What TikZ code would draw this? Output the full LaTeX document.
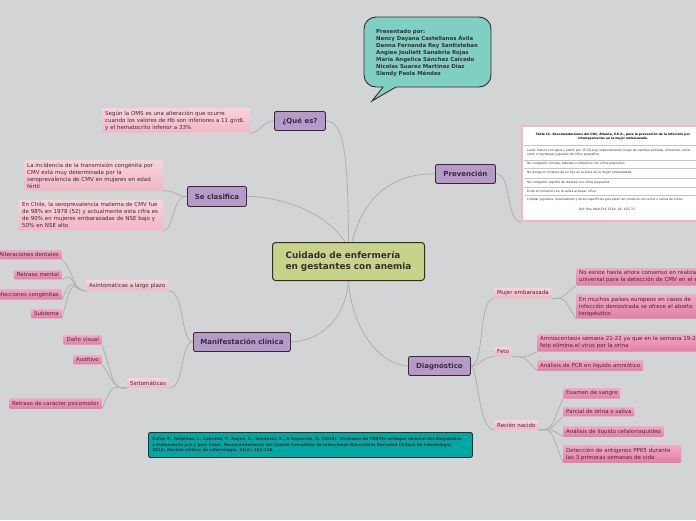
\documentclass[tikz,border=0pt]{standalone}
\usepackage{fontspec}
\setmainfont{DejaVu Sans}
\usepackage{xcolor}
\usepackage{tikz}
\usetikzlibrary{backgrounds}

\definecolor{bg}{HTML}{D3D4D5}
\definecolor{hubfill}{HTML}{C6D38A}
\definecolor{edge}{HTML}{3A2A26}
\definecolor{topicfill}{HTML}{B59BCB}
\definecolor{pinklite}{HTML}{F9D3DB}
\definecolor{pinkmid}{HTML}{F2B6C5}
\definecolor{pinktop}{HTML}{F2A9C4}
\definecolor{pinkdeep}{HTML}{E27EA6}
\definecolor{linkgray}{HTML}{B0B0B0}
\definecolor{bubble}{HTML}{7FCFC2}
\definecolor{citefill}{HTML}{00A8A3}
\definecolor{ink}{HTML}{3D2B33}
\definecolor{rule}{HTML}{C4C4C4}

\begin{document}
\begin{tikzpicture}[x=1pt, y=-1pt,
  link/.style={draw=linkgray, line width=0.8pt},
  hub/.style={draw=edge, line width=1pt, fill=hubfill, rounded corners=3pt, text=ink,
    font=\fontsize{8.9}{11.7}\selectfont\bfseries, align=left, inner sep=0pt},
  topic/.style={draw=edge, line width=0.9pt, fill=topicfill, rounded corners=2pt, text=ink,
    font=\fontsize{7}{8}\selectfont\bfseries, inner sep=0pt},
  lite/.style={top color=pinklite, bottom color=pinkmid, rounded corners=1pt, text=ink,
    font=\fontsize{5.5}{7}\selectfont, align=left, inner xsep=3pt, inner ysep=2.5pt},
  deep/.style={top color=pinktop, bottom color=pinkdeep, rounded corners=1pt, text=ink,
    font=\fontsize{5.5}{7}\selectfont, align=left, inner xsep=3pt, inner ysep=2.5pt},
  tabtext/.style={font=\fontsize{3.1}{3.8}\selectfont, text=black!80, anchor=west, inner sep=0pt, align=left},
]
  \begin{scope}[on background layer]
    \path[use as bounding box, fill=bg] (0,0) rectangle (696,520);
  \end{scope}
  \clip (0,0) rectangle (696,520);

  % speech bubble
  \filldraw[draw=edge, line width=0.9pt, fill=bubble] (372,101) -- (383,87)
    [rounded corners=12pt] -- (364,87) -- (364,17) -- (491,17) -- (491,87) [sharp corners] -- (396,87) -- cycle;
  \node[anchor=north west, align=left, text=ink, inner sep=0pt,
    font=\fontsize{5.4}{7.1}\selectfont\bfseries] (autores) at (376,29)
    {Presentado por:\\Nancy Dayana Castellanos Ávila\\Danna Fernanda Rey Santisteban\\Angiee Jouliett Sanabria Rojas\\María Angelica Sánchez Caicedo\\Nicolas Suarez Martinez Diaz\\Slendy Paola Méndez};

  % nodes
  \node[hub, anchor=north west, minimum width=152pt, minimum height=38pt] (cen) at (272,242)
    {Cuidado de enfermería\\en gestantes con anemia};
  \node[topic, anchor=north west, minimum width=51pt, minimum height=19pt] (que) at (274,111) {¿Qué es?};
  \node[topic, anchor=north west, minimum width=59pt, minimum height=20pt] (clas) at (187,186) {Se clasifica};
  \node[topic, anchor=north west, minimum width=97pt, minimum height=19pt] (mani) at (193,332) {Manifestación clínica};
  \node[topic, anchor=north west, minimum width=60pt, minimum height=19pt] (prev) at (435,164) {Prevención};
  \node[topic, anchor=north west, minimum width=62pt, minimum height=19pt] (diag) at (408,356) {Diagnóstico};

  \node[lite, anchor=north west, text width=142pt] (oms) at (102,108)
    {Según la OMS es una alteración que ocurre\\cuando los valores de Hb son inferiores a 11 gr/dL\\y el hematocrito inferior a 33\%};
  \node[lite, anchor=north west, text width=133pt] (inc) at (24,160)
    {La incidencia de la transmisión congénita por\\CMV está muy determinada por la\\seroprevalencia de CMV en mujeres en edad\\fértil};
  \node[lite, anchor=north west, text width=138pt] (chile) at (19,200)
    {En Chile, la seroprevalencia materna de CMV fue\\de 98\% en 1978 (52) y actualmente esta cifra es\\de 90\% en mujeres embarazadas de NSE bajo y\\50\% en NSE alto};
  \node[lite, anchor=north west] (asin) at (86,280) {Asintomáticas a largo plazo};
  \node[lite, anchor=north west] (sint) at (127,378) {Sintomáticas};
  \node[deep, anchor=north east] (alt) at (62,250) {Alteraciones dentales};
  \node[deep, anchor=north east] (ret) at (62,270) {Retraso mental};
  \node[deep, anchor=north east] (infc) at (62,289) {Infecciones congénitas};
  \node[deep, anchor=north east] (subt) at (62,309) {Subtema};
  \node[deep, anchor=north east] (dano) at (102,335) {Daño visual};
  \node[deep, anchor=north east] (aud) at (102,355) {Auditivo};
  \node[deep, anchor=north east] (psic) at (102,398) {Retraso de carácter psicomotor};

  \node[lite, anchor=north west] (muj) at (494,288) {Mujer embarazada};
  \node[lite, anchor=north west] (feto) at (494,347) {Feto};
  \node[lite, anchor=north west] (rn) at (494,420) {Recién nacido};
  \node[deep, anchor=north west, text width=160pt] (noex) at (576,268)
    {No existe hasta ahora consenso en realizar tamizaje\\universal para la detección de CMV en el embarazo};
  \node[deep, anchor=north west, text width=116pt] (euro) at (576,294)
    {En muchos países europeos en casos de\\infección demostrada se ofrece el aborto\\terapéutico};
  \node[deep, anchor=north west, text width=185pt] (amni) at (537,334)
    {Amniocentesis semana 21-22 ya que en la semana 19-20 el\\feto elimina el virus por la orina};
  \node[deep, anchor=north west] (pcr) at (537,360) {Análisis de PCR en líquido amniótico};
  \node[deep, anchor=north west] (exa) at (563,388) {Examen de sangre};
  \node[deep, anchor=north west] (parc) at (563,407) {Parcial de orina o saliva};
  \node[deep, anchor=north west] (liq) at (563,426) {Análisis de líquido cefalorraquídeo};
  \node[deep, anchor=north west, text width=112pt] (det) at (563,445)
    {Detección de antígenos PP65 durante\\las 3 primeras semanas de vida};

  % table
  \node[draw=pinkmid, line width=2pt, fill=white, anchor=north west, minimum width=184pt,
    minimum height=95pt, inner sep=0pt] (tab) at (521,125) {};
  \node[font=\fontsize{3}{3.8}\selectfont\bfseries, align=center, inner sep=0pt] (tabtit) at (613,136.5)
    {Tabla 12. Recomendaciones del CDC, Atlanta, E.E.A., para la prevención de la infección por\\citomegalovirus en la mujer embarazada.};
  \foreach \y in {145,160,168,178,187,195}
    \draw[rule, line width=0.3pt] (524,\y) -- (700,\y);
  \node[tabtext] at (527,152.5) {Lavar manos con agua y jabón por 15-20 seg, especialmente luego de cambiar pañales, alimentar, sonar\\nariz o manipular juguetes de niños pequeños};
  \node[tabtext] at (527,164) {No compartir comida, bebidas o utensilios con niños pequeños};
  \node[tabtext] at (527,173) {No ponga el chupete de su hijo en la boca de la mujer embarazada};
  \node[tabtext] at (527,182.5) {No compartir cepillos de dientes con niños pequeños};
  \node[tabtext] at (527,191) {Evite el contacto con la saliva al besar niños};
  \node[tabtext] at (527,200) {Limpiar juguetes, mostradores y otras superficies que estén en contacto con orina o saliva de niños.};
  \node[tabtext, anchor=center] at (607,209.5) {Ref: Rev Med Chil 2014; 24: 425-33};

  % citation
  \node[draw=edge, line width=0.9pt, fill=citefill, rounded corners=2pt, anchor=north west,
    text width=316pt, minimum height=25pt, inner xsep=4pt, align=left, text=ink,
    font=\fontsize{4}{5.5}\selectfont\bfseries] (cita) at (148,432)
    {Cofre, F., Delpiano, L., Labraña, Y., Reyes, A., Sandoval, A., \& Izquierdo, G. (2016). Síndrome de TORCH: enfoque racional del diagnóstico\\y tratamiento pre y post natal. Recomendaciones del Comité Consultivo de Infecciones Neonatales Sociedad Chilena de Infectología,\\2016. Revista chilena de infectología, 33(2), 191-216.};

  % connectors
  \begin{scope}[on background layer]
  \draw[link] (cen.north) .. controls (348,160) and (345,121) .. (que.east);
  \draw[link] (cen.100) .. controls (325,210) and (275,196) .. (clas.east);
  \draw[link] (cen.80) .. controls (365,190) and (400,173) .. (prev.west);
  \draw[link] (cen.south) .. controls (345,320) and (320,341) .. (mani.east);
  \draw[link] (cen.south) .. controls (352,330) and (380,365) .. (diag.west);
  \draw[link] (prev.east) .. controls (512,173) and (505,220) .. (tab.south west);

  \draw[link] (que.west) .. controls (262,121) and (262,132) .. (oms.south east);
  \draw[link] (clas.west) .. controls (175,196) and (175,190) .. (inc.south east);
  \draw[link] (clas.west) .. controls (172,196) and (174,230) .. (chile.south east);
  \draw[link] (mani.west) .. controls (180,341) and (185,291) .. (asin.south east);
  \draw[link] (mani.west) .. controls (180,341) and (185,389) .. (sint.south east);
  \foreach \leaf in {alt,ret,infc,subt}
    \draw[link] (asin.south west) .. controls (72,291) and (74,270) .. (\leaf.south east);
  \foreach \leaf in {dano,aud,psic}
    \draw[link] (sint.south west) .. controls (112,389) and (114,380) .. (\leaf.south east);
  \draw[link] (diag.east) .. controls (485,365) and (478,298) .. (muj.south west);
  \draw[link] (diag.east) .. controls (482,365) and (482,357) .. (feto.south west);
  \draw[link] (diag.east) .. controls (478,365) and (478,430) .. (rn.south west);
  \foreach \leaf in {noex,euro}
    \draw[link] (muj.south east) .. controls (566,298) and (562,296) .. (\leaf.south west);
  \foreach \leaf in {amni,pcr}
    \draw[link] (feto.south east) .. controls (527,357) and (525,358) .. (\leaf.south west);
  \foreach \leaf in {exa,parc,liq,det}
    \draw[link] (rn.south east) .. controls (553,430) and (550,428) .. (\leaf.south west);
  \end{scope}
\end{tikzpicture}
\end{document}
